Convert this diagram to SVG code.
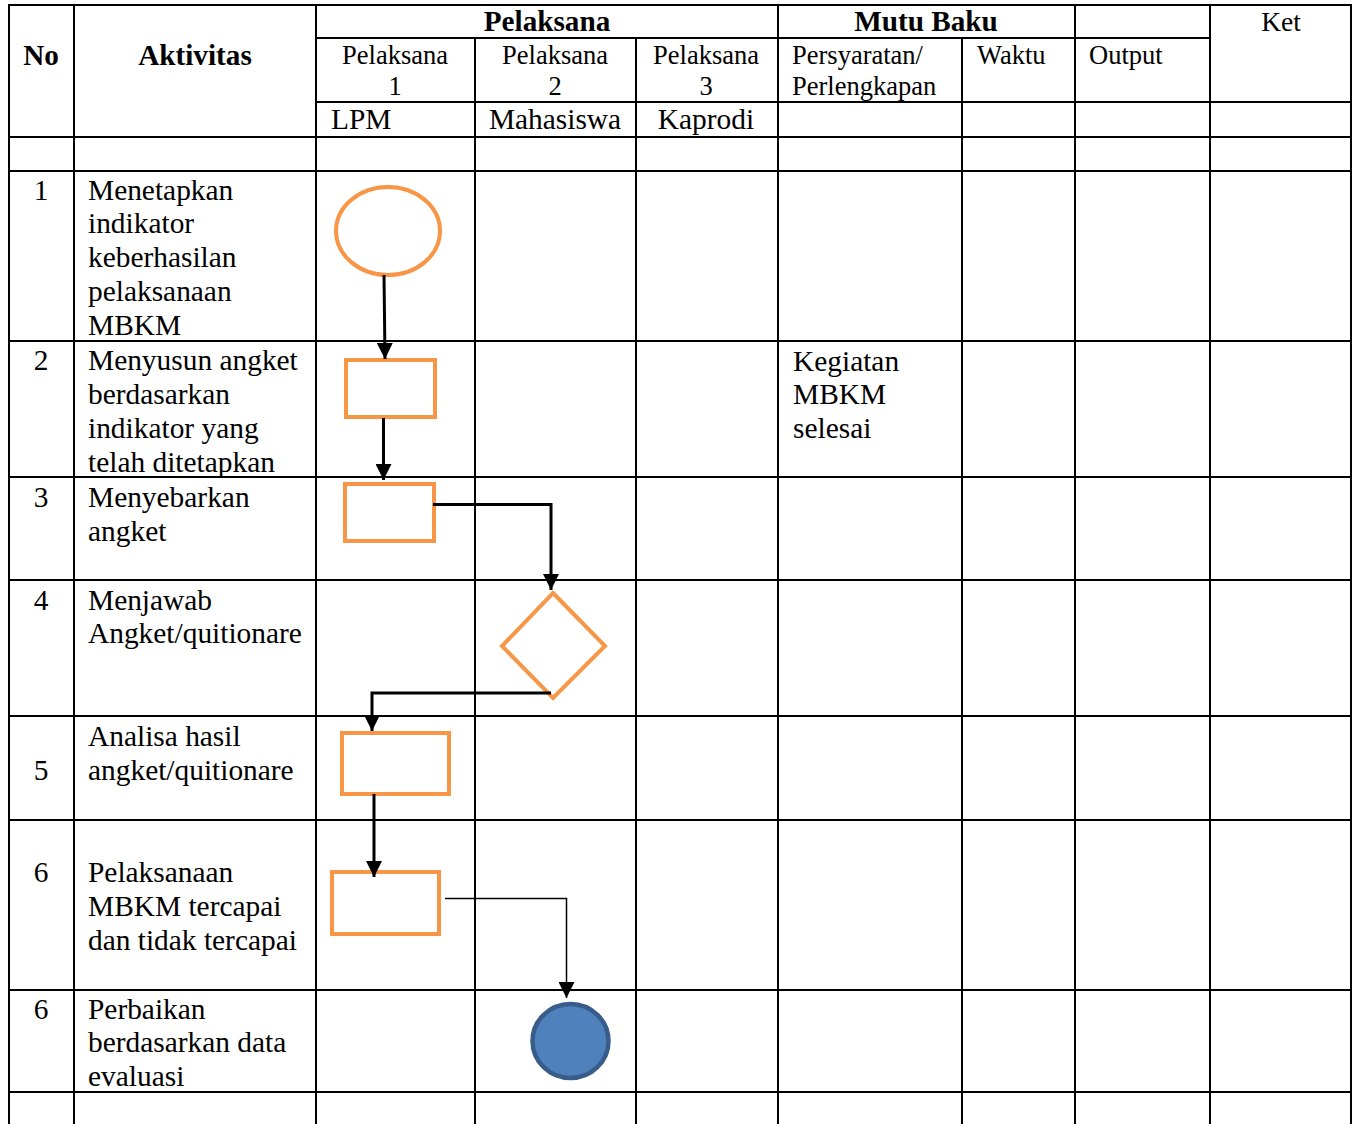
<svg xmlns="http://www.w3.org/2000/svg" width="1357" height="1124" viewBox="0 0 1357 1124">
<defs>
<marker id="arr" markerUnits="userSpaceOnUse" markerWidth="16" markerHeight="16" refX="16" refY="8" orient="auto">
<path d="M0,0 L16,8 L0,16 Z" fill="#000"/>
</marker>
<style>
.grid line{stroke:#000;stroke-width:2}
.t{font-family:"Liberation Serif","Times New Roman",serif;font-size:29.4px;fill:#000}
.s{font-family:"Liberation Serif","Times New Roman",serif;font-size:26.5px;fill:#000}
.k{font-family:"Liberation Serif","Times New Roman",serif;font-size:27.5px;fill:#000}
.b{font-family:"Liberation Serif","Times New Roman",serif;font-size:29.2px;font-weight:bold;fill:#000}
.c{text-anchor:middle}
.shape{fill:#fff;stroke:#F79646;stroke-width:4}
.conn{fill:none;stroke:#000;stroke-width:3;marker-end:url(#arr)}
.thin{fill:none;stroke:#000;stroke-width:1.5;marker-end:url(#arr)}
</style>
</defs>
<rect width="1357" height="1124" fill="#fff"/>
<g class="grid">
<line x1="9" y1="5" x2="9" y2="1124"/>
<line x1="74" y1="5" x2="74" y2="1124"/>
<line x1="316" y1="5" x2="316" y2="1124"/>
<line x1="475" y1="38" x2="475" y2="1124"/>
<line x1="636" y1="38" x2="636" y2="1124"/>
<line x1="778" y1="5" x2="778" y2="1124"/>
<line x1="962" y1="38" x2="962" y2="1124"/>
<line x1="1075" y1="5" x2="1075" y2="1124"/>
<line x1="1210" y1="5" x2="1210" y2="1124"/>
<line x1="1351" y1="5" x2="1351" y2="1124"/>
<line x1="8" y1="5" x2="1352" y2="5"/>
<line x1="316" y1="38" x2="1210" y2="38"/>
<line x1="316" y1="102" x2="1352" y2="102"/>
<line x1="8" y1="137" x2="1352" y2="137"/>
<line x1="8" y1="171" x2="1352" y2="171"/>
<line x1="8" y1="341" x2="1352" y2="341"/>
<line x1="8" y1="477" x2="1352" y2="477"/>
<line x1="8" y1="580" x2="1352" y2="580"/>
<line x1="8" y1="716" x2="1352" y2="716"/>
<line x1="8" y1="820" x2="1352" y2="820"/>
<line x1="8" y1="990" x2="1352" y2="990"/>
<line x1="8" y1="1092" x2="1352" y2="1092"/>
</g>
<g id="header">
<text class="b c" x="41" y="65">No</text>
<text class="b c" x="195" y="65">Aktivitas</text>
<text class="b c" x="547" y="31">Pelaksana</text>
<text class="b c" x="926" y="31">Mutu Baku</text>
<text class="k c" x="1281" y="31">Ket</text>
<text class="s c" x="395" y="64">Pelaksana</text>
<text class="s c" x="395" y="95">1</text>
<text class="s c" x="555" y="64">Pelaksana</text>
<text class="s c" x="555" y="95">2</text>
<text class="s c" x="706" y="64">Pelaksana</text>
<text class="s c" x="706" y="95">3</text>
<text class="s" x="792" y="64">Persyaratan/</text>
<text class="s" x="792" y="95">Perlengkapan</text>
<text class="s" x="977" y="64">Waktu</text>
<text class="s" x="1089" y="64">Output</text>
<text class="t" x="331" y="129">LPM</text>
<text class="t c" x="555" y="129">Mahasiswa</text>
<text class="t c" x="706" y="129">Kaprodi</text>
</g>
<g id="rows">
<text class="t c" x="41" y="200">1</text>
<text class="t" x="88" y="200">Menetapkan</text>
<text class="t" x="88" y="233">indikator</text>
<text class="t" x="88" y="267">keberhasilan</text>
<text class="t" x="88" y="301">pelaksanaan</text>
<text class="t" x="88" y="335">MBKM</text>
<text class="t c" x="41" y="370">2</text>
<text class="t" x="88" y="370">Menyusun angket</text>
<text class="t" x="88" y="404">berdasarkan</text>
<text class="t" x="88" y="438">indikator yang</text>
<text class="t" x="88" y="472">telah ditetapkan</text>
<text class="t" x="793" y="371">Kegiatan</text>
<text class="t" x="793" y="404">MBKM</text>
<text class="t" x="793" y="438">selesai</text>
<text class="t c" x="41" y="507">3</text>
<text class="t" x="88" y="507">Menyebarkan</text>
<text class="t" x="88" y="541">angket</text>
<text class="t c" x="41" y="610">4</text>
<text class="t" x="88" y="610">Menjawab</text>
<text class="t" x="88" y="643">Angket/quitionare</text>
<text class="t c" x="41" y="780">5</text>
<text class="t" x="88" y="746">Analisa hasil</text>
<text class="t" x="88" y="780">angket/quitionare</text>
<text class="t c" x="41" y="882">6</text>
<text class="t" x="88" y="882">Pelaksanaan</text>
<text class="t" x="88" y="916">MBKM tercapai</text>
<text class="t" x="88" y="950">dan tidak tercapai</text>
<text class="t c" x="41" y="1019">6</text>
<text class="t" x="88" y="1019">Perbaikan</text>
<text class="t" x="88" y="1052">berdasarkan data</text>
<text class="t" x="88" y="1086">evaluasi</text>
</g>
<g id="n1"><ellipse class="shape" cx="388" cy="231" rx="52" ry="44"/></g>
<g id="n2"><rect class="shape" x="346" y="360" width="89" height="57"/></g>
<g id="n3"><rect class="shape" x="345" y="484" width="89" height="57"/></g>
<g id="n4"><polygon class="shape" points="553,593 605,646 553,698 502,646"/></g>
<g id="n5"><rect class="shape" x="342" y="733" width="107" height="61"/></g>
<g id="n6"><rect class="shape" x="332" y="872" width="107" height="62"/></g>
<g id="n7"><ellipse cx="570.5" cy="1041" rx="38" ry="37" fill="#4F81BD" stroke="#385D8A" stroke-width="4.5"/></g>
<g id="connectors">
<path class="conn" d="M384,275 L385,359"/>
<path class="conn" d="M383.5,418 L383.5,480"/>
<path class="conn" d="M433,504.5 L551,504.5 L551,590"/>
<path class="conn" d="M551,693 L372,693 L372,731"/>
<path class="conn" d="M374,794 L374,877"/>
<path class="thin" d="M445,898.5 L566.5,898.5 L566.5,998"/>
</g>
</svg>
